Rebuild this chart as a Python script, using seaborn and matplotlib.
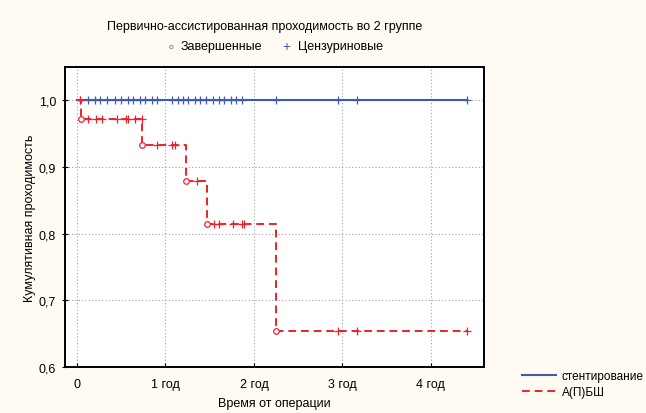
import pandas as pd
import numpy as np
import matplotlib.pyplot as plt
import seaborn as sns

# Data (time in years)
groups = ["стентирование", "А(П)БШ"]

# stenting: no events, survival stays at 1.0
stent_event_times = []
stent_event_surv = []
stent_censor_times = [0.03, 0.12, 0.20, 0.26, 0.34, 0.43, 0.50, 0.58, 0.63, 0.71,
                      0.77, 0.85, 0.90, 1.07, 1.14, 1.20, 1.25, 1.33, 1.39, 1.46,
                      1.54, 1.60, 1.66, 1.74, 1.80, 1.86, 2.25, 2.95, 3.16, 4.41]

# bypass group
bypass_event_times = [0.05, 0.73, 1.23, 1.47, 2.25]
bypass_event_surv = [0.972, 0.933, 0.879, 0.815, 0.654]
bypass_censor_times = [0.03, 0.12, 0.21, 0.28, 0.45, 0.55, 0.58, 0.66, 0.73,
                       0.90, 1.07, 1.11, 1.36, 1.55, 1.60, 1.76, 1.86, 1.89,
                       2.95, 3.16, 4.41]

x_ticks = [0, 1, 2, 3, 4]
x_tick_labels = ["0", "1 год", "2 год", "3 год", "4 год"]
y_ticks = [0.6, 0.7, 0.8, 0.9, 1.0]
y_tick_labels = ["0,6", "0,7", "0,8", "0,9", "1,0"]

colors = {"стентирование": "#3d5cae", "А(П)БШ": "#f0202a"}


def surv_at(t, ev_t, ev_s):
    s = 1.0
    for et, es in zip(ev_t, ev_s):
        if et <= t:
            s = es
    return s


def build_curve(name, ev_t, ev_s, cens_t):
    t_end = max(cens_t + ev_t)
    times = [0.0] + ev_t + [t_end]
    surv = [1.0] + ev_s + [ev_s[-1] if ev_s else 1.0]
    curve = pd.DataFrame({"t": times, "s": surv, "group": name})
    events = pd.DataFrame({"t": ev_t, "s": ev_s, "group": name})
    cens = pd.DataFrame({"t": cens_t,
                         "s": [surv_at(t, ev_t, ev_s) if t not in ev_t else
                               surv_at(t - 1e-9, ev_t, ev_s) for t in cens_t],
                         "group": name})
    return curve, events, cens


c1, e1, k1 = build_curve(groups[0], stent_event_times, stent_event_surv, stent_censor_times)
c2, e2, k2 = build_curve(groups[1], bypass_event_times, bypass_event_surv, bypass_censor_times)

plt.rcParams['font.family'] = ['Liberation Sans', 'DejaVu Sans']
plt.rcParams['font.size'] = 9

fig = plt.figure(figsize=(6.46, 4.14), dpi=100, facecolor="#fffbf2")
ax = fig.add_axes([0.1006, 0.111, 0.6486, 0.725])
ax.set_facecolor("white")

# step curves
sns.lineplot(data=c1, x="t", y="s", drawstyle="steps-post", color=colors[groups[0]],
             linewidth=1.5, ax=ax, label=groups[0], estimator=None)
sns.lineplot(data=c2, x="t", y="s", drawstyle="steps-post", color=colors[groups[1]],
             linewidth=1.4, ax=ax, label=groups[1], estimator=None)
ax.lines[1].set_dashes([4, 2.5])

# censored marks
for cens, name in [(k1, groups[0]), (k2, groups[1])]:
    sns.scatterplot(data=cens, x="t", y="s", marker="+", s=40, linewidth=0.9,
                    color=colors[name], ax=ax, legend=False, zorder=4)

# events (completed)
sns.scatterplot(data=e2, x="t", y="s", marker="o", s=16, facecolor="white",
                edgecolor=colors[groups[1]], linewidth=0.9, ax=ax, legend=False, zorder=5)

ax.set_xlim(-0.136, 4.60)
ax.set_ylim(0.6, 1.05)
ax.set_xticks(x_ticks)
ax.set_xticklabels(x_tick_labels)
ax.set_yticks(y_ticks)
ax.set_yticklabels(y_tick_labels)
ax.tick_params(axis="x", direction="in", length=3, pad=8)
ax.tick_params(axis="y", direction="inout", length=5, pad=4)
ax.grid(True, linestyle=(0, (1, 2)), color="#a0a0a0", linewidth=0.8)
for sp in ax.spines.values():
    sp.set_linewidth(1.4)
    sp.set_color("black")

ax.set_xlabel("Время от операции", labelpad=5)
ax.set_ylabel("Кумулятивная проходимость", labelpad=2)

# bottom-right legend
ax.legend(loc="lower left", bbox_to_anchor=(1.065, -0.14), frameon=False,
          handlelength=2.9, handletextpad=0.5, labelspacing=0.4, fontsize=8.5)

# top title and marker legend
fig.text(0.41, 0.935, "Первично-ассистированная проходимость во 2 группе",
         ha="center", va="center")
fig.text(0.264, 0.886, "o", ha="center", va="center", color=colors[groups[0]], fontsize=6)
fig.text(0.279, 0.886, "Завершенные", ha="left", va="center")
fig.text(0.444, 0.886, "+", ha="center", va="center", color=colors[groups[0]], fontsize=10)
fig.text(0.461, 0.886, "Цензуриновые", ha="left", va="center")

fig.savefig("out.png", dpi=100, facecolor=fig.get_facecolor())
